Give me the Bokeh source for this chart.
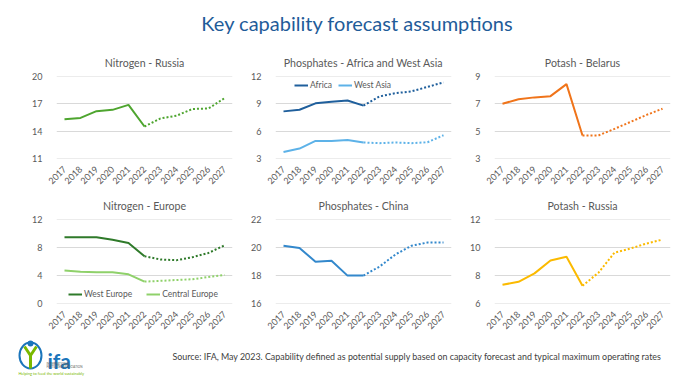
import math
from bokeh.plotting import figure
from bokeh.models import FactorRange, Range1d, Legend, LegendItem
from bokeh.layouts import column, row
from bokeh.embed import file_html
from bokeh.resources import INLINE
from bokeh.core.properties import value

# ---------------- data ----------------
years = [str(y) for y in range(2017, 2028)]

nitrogen_russia = [15.3, 15.45, 16.2, 16.35, 16.9, 14.5, 15.4, 15.7, 16.45, 16.5, 17.65]
phos_africa = [8.18, 8.36, 9.07, 9.24, 9.39, 8.82, 9.84, 10.2, 10.4, 10.9, 11.4]
phos_west_asia = [3.66, 4.05, 4.9, 4.9, 5.0, 4.72, 4.65, 4.72, 4.65, 4.75, 5.53]
potash_belarus = [7.02, 7.35, 7.49, 7.58, 8.47, 4.67, 4.67, 5.16, 5.67, 6.19, 6.65]
nitrogen_west_europe = [9.52, 9.52, 9.52, 9.14, 8.67, 6.76, 6.29, 6.19, 6.62, 7.24, 8.33]
nitrogen_central_europe = [4.71, 4.52, 4.43, 4.43, 4.14, 3.1, 3.2, 3.33, 3.43, 3.76, 4.05]
phos_china = [20.14, 19.98, 18.98, 19.05, 17.98, 17.98, 18.63, 19.51, 20.14, 20.37, 20.37]
potash_russia = [7.32, 7.53, 8.14, 9.07, 9.35, 7.25, 8.19, 9.64, 9.94, 10.3, 10.58]

ticks_nr = [11, 14, 17, 20]
ticks_pa = [3, 6, 9, 12]
ticks_pb = [3, 5, 7, 9]
ticks_ne = [0, 4, 8, 12]
ticks_pc = [16, 18, 20, 22]
ticks_pr = [6, 8, 10, 12]

SPLIT = 5  # index of 2022: actuals up to here, forecast after

FONT = "Lato"
GRAY = "#595959"


def panel(title, w, left, right, top, bottom, frame_h, ticks, standoff):
    lo, hi = ticks[0], ticks[-1]
    pad = (hi - lo) * 0.006
    p = figure(width=w, height=top + frame_h + bottom,
               x_range=FactorRange(factors=years, range_padding=0),
               y_range=Range1d(lo - pad, hi + pad),
               output_backend="svg", toolbar_location=None,
               min_border_left=left, min_border_right=right,
               min_border_top=top, min_border_bottom=bottom,
               title=title)
    p.title.align = "center"
    p.title.text_font = FONT
    p.title.text_font_size = "10.6px"
    p.title.text_font_style = "normal"
    p.title.text_color = GRAY
    p.title.standoff = standoff
    p.outline_line_color = None
    p.background_fill_color = "white"
    p.border_fill_color = "white"
    p.xgrid.grid_line_color = None
    p.ygrid.grid_line_color = "#D9D9D9"
    p.ygrid.grid_line_width = 1
    p.yaxis.ticker = ticks
    for ax in (p.xaxis, p.yaxis):
        ax.axis_line_color = None
        ax.major_tick_line_color = None
        ax.minor_tick_line_color = None
        ax.major_label_text_font = FONT
        ax.major_label_text_font_size = "9px"
        ax.major_label_text_color = GRAY
    p.yaxis.major_label_standoff = 8
    p.xaxis.major_label_standoff = 3
    p.xaxis.major_label_orientation = math.pi / 4
    return p


def series(p, vals, color):
    r = p.line(years[:SPLIT + 1], vals[:SPLIT + 1], line_color=color, line_width=2)
    p.line(years[SPLIT:], vals[SPLIT:], line_color=color, line_width=2, line_dash="2 2")
    return r


def add_legend(p, items, loc, spacing):
    lg = Legend(items=[LegendItem(label=l, renderers=[r]) for l, r in items],
                orientation="horizontal", location=loc,
                border_line_color=None, background_fill_alpha=0,
                label_text_font=FONT, label_text_font_size="8.5px",
                label_text_color=GRAY, glyph_width=14, glyph_height=10,
                label_standoff=2, spacing=spacing, padding=0, margin=0,
                label_height=10)
    p.add_layout(lg)


# widths: frame 176px in each column
W = [242, 219, 219]
L = [56, 33, 33]
R = [10, 10, 10]

# row 1
f1 = panel("Nitrogen - Russia", W[0], L[0], R[0], 36, 28, 86, ticks_nr, 16)
series(f1, nitrogen_russia, "#4EA52F")

f2 = panel("Phosphates - Africa and West Asia", W[1], L[1], R[1], 36, 28, 86, ticks_pa, 16)
ra = series(f2, phos_africa, "#1F5F9C")
rw = series(f2, phos_west_asia, "#5DB2E8")
add_legend(f2, [("Africa", ra), ("West Asia", rw)], (19, 68), 6)

f3 = panel("Potash - Belarus", W[2], L[2], R[2], 36, 28, 86, ticks_pb, 16)
series(f3, potash_belarus, "#F0741A")

# row 2
f4 = panel("Nitrogen - Europe", W[0], L[0], R[0], 29, 31, 85, ticks_ne, 15)
rwe = series(f4, nitrogen_west_europe, "#2F7A2A")
rce = series(f4, nitrogen_central_europe, "#8FD16A")
add_legend(f4, [("West Europe", rwe), ("Central Europe", rce)], (12, 4), 14)

f5 = panel("Phosphates - China", W[1], L[1], R[1], 29, 31, 85, ticks_pc, 15)
series(f5, phos_china, "#3388CC")

f6 = panel("Potash - Russia", W[2], L[2], R[2], 29, 31, 85, ticks_pr, 15)
series(f6, potash_russia, "#FBBA00")

# title figure
tf = figure(width=680, height=40, x_range=Range1d(0, 680), y_range=Range1d(0, 40),
            x_axis_type=None, y_axis_type=None, output_backend="svg",
            toolbar_location=None, min_border=0)
tf.outline_line_color = None
tf.xgrid.grid_line_color = None
tf.ygrid.grid_line_color = None
tf.text(x=[357], y=[18], text=["Key capability forecast assumptions"],
        text_font=value(FONT), text_font_size="20px", text_color="#1F5C99",
        text_align="center", text_baseline="middle")

# footer figure with source note and logo
ff = figure(width=680, height=47, x_range=Range1d(0, 680), y_range=Range1d(0, 47),
            x_axis_type=None, y_axis_type=None, output_backend="svg",
            toolbar_location=None, min_border=0)
ff.outline_line_color = None
ff.xgrid.grid_line_color = None
ff.ygrid.grid_line_color = None
ff.text(x=[172], y=[26],
        text=["Source: IFA, May 2023. Capability defined as potential supply based on capacity forecast and typical maximum operating rates"],
        text_font=value(FONT), text_font_size="8.9px", text_color="#404040",
        text_align="left", text_baseline="middle")
# logo (decoration)
ff.ellipse(x=[30], y=[27], width=22, height=26, fill_color=None,
           line_color="#1B75BB", line_width=2)
ff.multi_line(xs=[[24, 30, 36], [30, 30]], ys=[[36, 27, 36], [27, 14]],
              line_color="#7AB800", line_width=3)
ff.scatter(x=[30], y=[39], size=6, fill_color="#1B75BB", line_color=None)
ff.text(x=[47], y=[22], text=["ifa"], text_font=value(FONT),
        text_font_size="21px", text_font_style="bold", text_color="#1B75BB",
        text_align="left", text_baseline="alphabetic")
ff.text(x=[46], y=[19], text=["INTERNATIONAL"], text_font=value(FONT),
        text_font_size="3px", text_color="#555555", text_align="left",
        text_baseline="middle")
ff.text(x=[46], y=[16], text=["FERTILIZER ASSOCIATION"], text_font=value(FONT),
        text_font_size="3px", text_color="#555555", text_align="left",
        text_baseline="middle")
ff.text(x=[18], y=[9], text=["Helping to feed the world sustainably"],
        text_font=value(FONT), text_font_size="4px", text_color="#7AB800",
        text_align="left", text_baseline="middle")

layout = column(tf, row(f1, f2, f3), row(f4, f5, f6), ff)
open("out.html", "w").write(file_html(layout, INLINE))
